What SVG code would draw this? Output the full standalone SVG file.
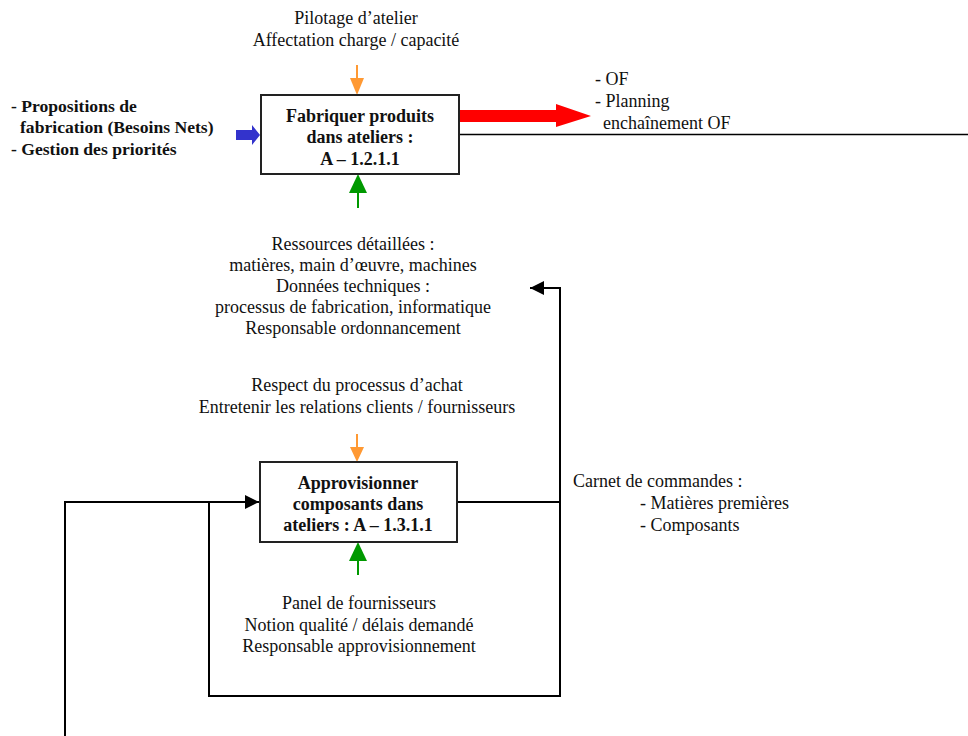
<svg xmlns="http://www.w3.org/2000/svg" width="968" height="736" viewBox="0 0 968 736">
<style>
  text { font-family: "Liberation Serif", "Times New Roman", serif; font-size: 18px; fill: #111; }
  .c { text-anchor: middle; }
  .b { font-weight: bold; }
  .sm { font-size: 17.6px; }
  .box { fill: #fff; stroke: #222; stroke-width: 2; }
  .ln { fill: none; stroke: #000; stroke-width: 2; }
  .or { stroke: #FF9933; stroke-width: 2; fill: none; }
  .gr { stroke: #009900; stroke-width: 2; fill: none; }
</style>
<defs>
  <marker id="blk" markerWidth="14" markerHeight="14" refX="14" refY="7" orient="auto" markerUnits="userSpaceOnUse">
    <path d="M0,0 L14,7 L0,14 Z" fill="#000"/>
  </marker>
</defs>
<rect width="968" height="736" fill="#fff"/>

<g id="labels">
  <text class="c" x="356" y="24">Pilotage d’atelier</text>
  <text class="c" x="356" y="46">Affectation charge / capacité</text>
  <text class="b sm" x="11" y="112">- Propositions de</text>
  <text class="b sm" x="20" y="133">fabrication (Besoins Nets)</text>
  <text class="b sm" x="11" y="155">- Gestion des priorités</text>
  <text x="595" y="85">- OF</text>
  <text x="595" y="107">- Planning</text>
  <text x="603" y="129">enchaînement OF</text>
  <text class="c" x="353" y="250">Ressources détaillées :</text>
  <text class="c" x="353" y="271">matières, main d’œuvre, machines</text>
  <text class="c" x="353" y="292">Données techniques :</text>
  <text class="c" x="353" y="313">processus de fabrication, informatique</text>
  <text class="c" x="353" y="334">Responsable ordonnancement</text>
  <text class="c" x="357" y="391">Respect du processus d’achat</text>
  <text class="c" x="357" y="413">Entretenir les relations clients / fournisseurs</text>
  <text x="573" y="487">Carnet de commandes :</text>
  <text x="640" y="509">- Matières premières</text>
  <text x="640" y="531">- Composants</text>
  <text class="c" x="359" y="609">Panel de fournisseurs</text>
  <text class="c" x="359" y="631">Notion qualité / délais demandé</text>
  <text class="c" x="359" y="652">Responsable approvisionnement</text>
</g>

<g id="connectors">
  <line class="or" x1="357" y1="65" x2="357" y2="80"/>
  <path d="M350,78 L364,78 L357,95 Z" fill="#FF9933"/>
  <line class="gr" x1="358" y1="191" x2="358" y2="208"/>
  <path d="M349,193 L367,193 L358,174 Z" fill="#009900"/>
  <path d="M236,130 L252,130 L252,125 L260,135 L252,145 L252,140 L236,140 Z" fill="#3333CC"/>
  <path d="M456,110 L556,110 L556,104 L591,116 L556,127 L556,122 L456,122 Z" fill="#FF0000"/>
  <line x1="458" y1="134.5" x2="968" y2="134.5" stroke="#000" stroke-width="1.5"/>
  <line class="or" x1="357" y1="434" x2="357" y2="449"/>
  <path d="M350,447 L364,447 L357,462 Z" fill="#FF9933"/>
  <line class="gr" x1="358" y1="558" x2="358" y2="575"/>
  <path d="M349,561 L367,561 L358,542 Z" fill="#009900"/>
  <polyline class="ln" points="457,502 560,502 560,288 530,288" marker-end="url(#blk)"/>
  <polyline class="ln" points="560,502 560,696 209,696 209,502"/>
  <polyline class="ln" points="65,736 65,502 259,502" marker-end="url(#blk)"/>
</g>

<g id="node-a1211">
  <rect class="box" x="261" y="95" width="198" height="79"/>
  <text class="c b" x="360" y="122">Fabriquer produits</text>
  <text class="c b" x="360" y="143">dans ateliers :</text>
  <text class="c b" x="360" y="165">A – 1.2.1.1</text>
</g>

<g id="node-a1311">
  <rect class="box" x="260" y="462" width="197" height="80"/>
  <text class="c b" x="358" y="489">Approvisionner</text>
  <text class="c b" x="358" y="510">composants dans</text>
  <text class="c b" x="358" y="531">ateliers : A – 1.3.1.1</text>
</g>
</svg>
